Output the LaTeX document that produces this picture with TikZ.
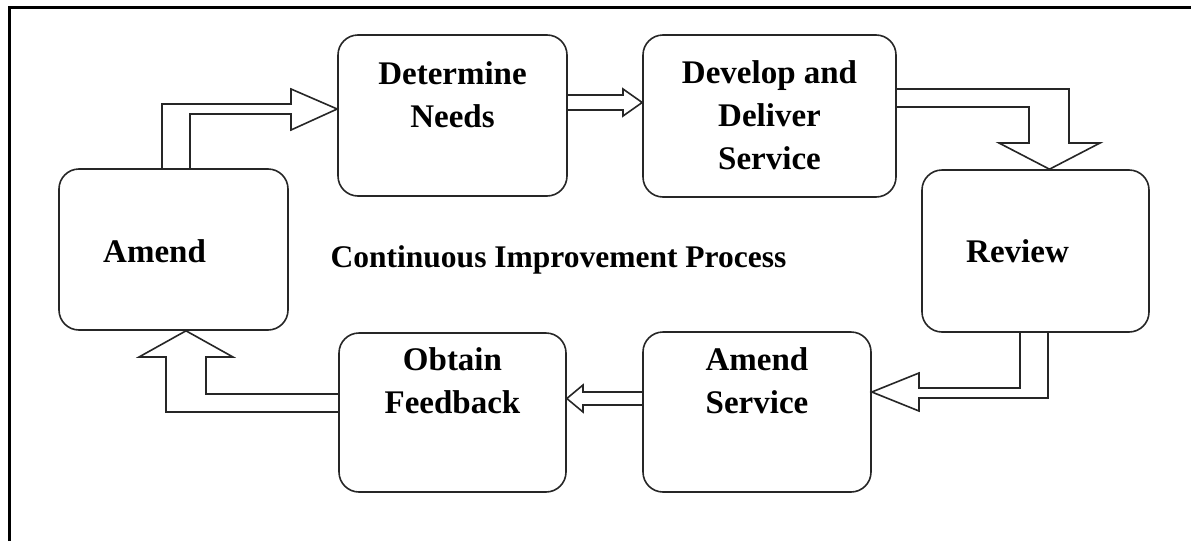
\documentclass[tikz,border=0pt]{standalone}
\usepackage{fontspec}
\setmainfont{Liberation Serif}
\begin{document}
\begin{tikzpicture}[x=1pt,y=-1pt,
  stage/.style={draw=black!85, line width=1.6pt, rounded corners=20pt,
    inner sep=0pt, fill=white},
  caption/.style={font=\fontsize{33}{43}\selectfont\bfseries, inner sep=0pt,
    align=center},
  titletext/.style={font=\fontsize{31.5}{40}\selectfont\bfseries, inner sep=0pt},
  flow/.style={draw=black!85, line width=1.6pt, line join=miter}]
\useasboundingbox (0,0) rectangle (1191,541);
\fill[white] (0,0) rectangle (1191,541);

% outer frame (top and left edges)
\draw[line width=3pt, black] (9,541) -- (9,7) -- (1191,7);

% stages of the cycle
\node[stage, minimum width=229pt, minimum height=161pt] (amend)  at (173.5,249.5) {};
\node[stage, minimum width=229pt, minimum height=161pt] (detn)   at (452.5,115.5) {};
\node[stage, minimum width=253pt, minimum height=162pt] (devl)   at (769.5,116) {};
\node[stage, minimum width=227pt, minimum height=162pt] (review) at (1035.5,251) {};
\node[stage, minimum width=228pt, minimum height=160pt] (amserv) at (757,412) {};
\node[stage, minimum width=227pt, minimum height=159pt] (obtain) at (452.5,412.5) {};

% stage labels
\node[caption, anchor=base west] (amendtxt) at (103,262) {Amend};
\node[caption, anchor=north] (detntxt) at (452.5,61.5) {Determine\\Needs};
\node[caption, anchor=north] (devltxt) at (769.5,60.5) {Develop and\\Deliver\\Service};
\node[caption, anchor=base west] (reviewtxt) at (966,262) {Review};
\node[caption, anchor=north] (amservtxt) at (757,347.5) {Amend\\Service};
\node[caption, anchor=north] (obtaintxt) at (452.5,347.5) {Obtain\\Feedback};

% centre title
\node[titletext, anchor=base] (title) at (558.5,267) {Continuous Improvement Process};

% block arrows between the stages
\draw[flow] (162,0 |- amend.north) -- (162,104) -- (291,104) -- (291,89)
  -- (detn.west |- 0,109) -- (291,130) -- (291,114) -- (190,114)
  -- (190,0 |- amend.north);

\draw[flow] (detn.east |- 0,95) -- (623,95) -- (623,89)
  -- (devl.west |- 0,102.5) -- (623,116) -- (623,110) -- (detn.east |- 0,110);

\draw[flow] (devl.east |- 0,89) -- (1069,89) -- (1069,143) -- (1100,143)
  -- (1049.5,0 |- review.north) -- (999,143) -- (1029,143) -- (1029,107)
  -- (devl.east |- 0,107);

\draw[flow] (1048,0 |- review.south) -- (1048,398) -- (919,398) -- (919,411)
  -- (amserv.east |- 0,392) -- (919,373) -- (919,388) -- (1020,388)
  -- (1020,0 |- review.south);

\draw[flow] (amserv.west |- 0,392) -- (583,392) -- (583,385)
  -- (obtain.east |- 0,398.5) -- (583,412) -- (583,405) -- (amserv.west |- 0,405);

\draw[flow] (obtain.west |- 0,394) -- (206,394) -- (206,357) -- (233,357)
  -- (186,0 |- amend.south) -- (139,357) -- (166,357) -- (166,412)
  -- (obtain.west |- 0,412);
\end{tikzpicture}
\end{document}
